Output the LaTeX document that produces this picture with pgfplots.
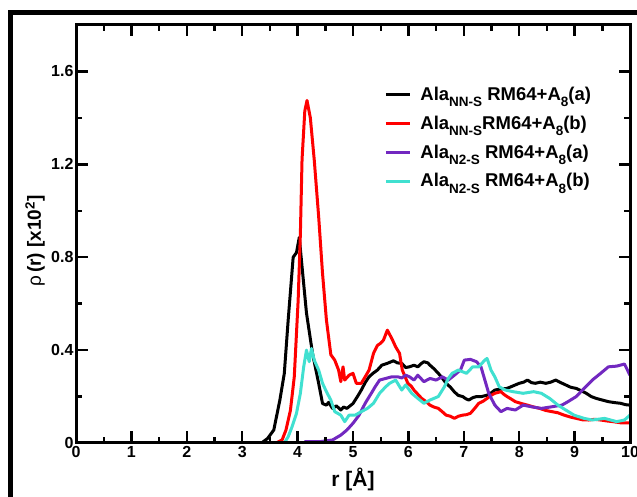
\documentclass[border=0pt]{standalone}
\usepackage{fontspec}
\setmainfont{Liberation Sans}
\usepackage{pgfplots}
\pgfplotsset{compat=1.18}
\definecolor{gpurple}{RGB}{114,40,192}
\definecolor{gturq}{RGB}{64,224,208}
\newcommand\sub[1]{\raisebox{-6.5pt}{\fontsize{13.5pt}{14pt}\selectfont #1}}
\begin{document}
\begin{tikzpicture}[x=1pt,y=1pt]
\useasboundingbox (0,0) rectangle (637,497);
\clip (0,0) rectangle (637,497);
\draw[line width=5pt] (10,-20) -- (10,484.5) -- (700,484.5);
\begin{axis}[
  at={(76pt,54pt)}, anchor=south west,
  scale only axis, width=554pt, height=418pt,
  xmin=0, xmax=10, ymin=0, ymax=1.8,
  axis on top=true,
  xtick={0,1,...,10}, ytick={0,0.4,0.8,1.2,1.6},
  minor x tick num=1, minor y tick num=1,
  tick align=inside,
  major tick length=11.5pt, minor tick length=6pt,
  axis line style={line width=3pt},
  every tick/.style={line width=2.4pt, black},
  /pgf/number format/assume math mode=true,
  ticklabel style={font=\fontsize{16pt}{18pt}\selectfont\bfseries},
  yticklabel style={xshift=1pt},
  xlabel={r [Å]},
  ylabel={{\fontseries{m}\selectfont ρ}\,(r) [x10\textsuperscript{2}]},
  xlabel style={font=\fontsize{21pt}{23pt}\selectfont\bfseries, at={(axis description cs:0.5,0)}, anchor=center, yshift=-36pt},
  ylabel style={font=\fontsize{19pt}{21pt}\selectfont\bfseries, at={(axis description cs:-0.074,0.483)}, anchor=center},
  legend style={draw=none, fill=none, at={(axis description cs:0.551,0.862)}, anchor=north west,
    font=\fontsize{18.5pt}{20pt}\selectfont\bfseries, row sep=10pt,
    nodes={inner xsep=3pt}},
  legend cell align=left,
  legend image code/.code={\draw[#1] (0pt,0pt) -- (24pt,0pt); \path (30pt,0pt);},
  every axis plot/.append style={line width=3pt, line join=round},
]
\addplot[black] coordinates {
(3.2,0) (3.35,0) (3.46,0.02) (3.57,0.056) (3.68,0.185) (3.76,0.30) (3.83,0.53) (3.92,0.80) (3.98,0.82) (4.03,0.885)
(4.08,0.76) (4.16,0.56) (4.27,0.385) (4.38,0.257) (4.45,0.17) (4.52,0.163) (4.56,0.175) (4.63,0.149) (4.70,0.16) (4.78,0.142)
(4.83,0.155) (4.89,0.149) (5.0,0.17) (5.08,0.20) (5.15,0.228) (5.22,0.26) (5.29,0.285) (5.36,0.30) (5.44,0.314) (5.52,0.335)
(5.62,0.343) (5.73,0.354) (5.80,0.345) (5.88,0.343) (5.95,0.325) (6.02,0.328) (6.10,0.335) (6.17,0.328) (6.22,0.34) (6.28,0.35)
(6.35,0.345) (6.39,0.335) (6.46,0.32) (6.54,0.30) (6.61,0.28) (6.68,0.257) (6.76,0.24) (6.83,0.22) (6.90,0.205) (6.98,0.20)
(7.04,0.19) (7.09,0.185) (7.16,0.195) (7.23,0.20) (7.32,0.20) (7.42,0.206) (7.49,0.215) (7.56,0.228) (7.66,0.232) (7.78,0.235)
(7.88,0.245) (8.0,0.257) (8.08,0.262) (8.15,0.271) (8.22,0.26) (8.29,0.257) (8.38,0.262) (8.48,0.257) (8.57,0.262) (8.66,0.271)
(8.75,0.26) (8.84,0.25) (8.93,0.24) (9.03,0.235) (9.12,0.225) (9.21,0.214) (9.30,0.20) (9.39,0.192) (9.50,0.185) (9.61,0.178)
(9.72,0.174) (9.83,0.171) (9.92,0.165) (10,0.163)
};
\addlegendentry{Ala\sub{NN-S} RM64+A\sub{8}(a)}
\addplot[red] coordinates {
(3.5,0) (3.61,0) (3.72,0.013) (3.79,0.056) (3.87,0.14) (3.94,0.285) (4.01,0.615) (4.05,0.90) (4.08,1.22) (4.13,1.43)
(4.17,1.475) (4.23,1.40) (4.30,1.22) (4.38,0.975) (4.45,0.73) (4.52,0.53) (4.60,0.38) (4.67,0.357) (4.74,0.314) (4.78,0.264)
(4.82,0.328) (4.85,0.271) (4.93,0.292) (5.0,0.30) (5.06,0.257) (5.15,0.257) (5.22,0.285) (5.29,0.314) (5.37,0.386) (5.44,0.42)
(5.50,0.43) (5.55,0.443) (5.62,0.486) (5.70,0.45) (5.77,0.414) (5.84,0.386) (5.89,0.314) (5.99,0.257) (6.05,0.245) (6.10,0.228)
(6.17,0.21) (6.24,0.192) (6.31,0.18) (6.39,0.163) (6.46,0.155) (6.54,0.149) (6.61,0.135) (6.68,0.12) (6.76,0.115) (6.83,0.106)
(6.90,0.115) (6.98,0.12) (7.05,0.122) (7.12,0.128) (7.20,0.15) (7.27,0.171) (7.35,0.18) (7.42,0.192) (7.49,0.205) (7.56,0.214)
(7.67,0.221) (7.72,0.21) (7.78,0.20) (7.85,0.19) (7.93,0.178) (8.04,0.17) (8.15,0.163) (8.26,0.155) (8.37,0.149) (8.48,0.14)
(8.59,0.135) (8.70,0.13) (8.81,0.12) (8.92,0.112) (9.03,0.106) (9.14,0.10) (9.25,0.099) (9.36,0.102) (9.47,0.099) (9.58,0.095)
(9.69,0.092) (9.83,0.087) (10,0.087)
};
\addlegendentry{Ala\sub{NN-S}RM64+A\sub{8}(b)}
\addplot[gpurple] coordinates {
(4.12,0.006) (4.41,0.006) (4.63,0.013) (4.78,0.034) (4.89,0.056) (5.0,0.085) (5.11,0.12) (5.22,0.171) (5.33,0.214) (5.40,0.242)
(5.48,0.271) (5.59,0.278) (5.70,0.285) (5.81,0.285) (5.88,0.28) (5.95,0.292) (6.02,0.285) (6.10,0.271) (6.17,0.292) (6.28,0.264)
(6.39,0.278) (6.50,0.271) (6.61,0.285) (6.72,0.271) (6.83,0.292) (6.94,0.314) (7.01,0.357) (7.12,0.36) (7.23,0.35) (7.31,0.328)
(7.38,0.271) (7.45,0.214) (7.56,0.163) (7.67,0.135) (7.78,0.149) (7.93,0.142) (8.07,0.163) (8.22,0.156) (8.40,0.149) (8.59,0.156)
(8.77,0.163) (8.88,0.178) (9.03,0.20) (9.17,0.235) (9.32,0.271) (9.47,0.30) (9.61,0.328) (9.76,0.331) (9.90,0.34) (10,0.292)
};
\addlegendentry{Ala\sub{N2-S} RM64+A\sub{8}(a)}
\addplot[gturq] coordinates {
(3.65,0) (3.76,0) (3.83,0.027) (3.90,0.07) (3.98,0.128) (4.05,0.214) (4.11,0.328) (4.16,0.40) (4.21,0.35) (4.25,0.407)
(4.30,0.357) (4.38,0.314) (4.45,0.257) (4.52,0.221) (4.60,0.185) (4.67,0.135) (4.78,0.12) (4.85,0.092) (4.93,0.12) (5.04,0.12)
(5.15,0.135) (5.26,0.149) (5.37,0.171) (5.48,0.214) (5.59,0.242) (5.66,0.257) (5.77,0.271) (5.88,0.228) (5.95,0.25) (6.06,0.214)
(6.17,0.192) (6.28,0.171) (6.39,0.185) (6.54,0.20) (6.65,0.242) (6.72,0.278) (6.79,0.30) (6.90,0.314) (7.05,0.30) (7.16,0.328)
(7.27,0.328) (7.38,0.357) (7.42,0.364) (7.49,0.314) (7.56,0.285) (7.64,0.242) (7.75,0.228) (7.89,0.221) (8.07,0.214) (8.26,0.221)
(8.40,0.214) (8.55,0.192) (8.70,0.163) (8.84,0.142) (8.99,0.12) (9.17,0.106) (9.32,0.099) (9.54,0.106) (9.76,0.092) (9.90,0.099)
(10,0.12)
};
\addlegendentry{Ala\sub{N2-S} RM64+A\sub{8}(b)}
\end{axis}
\end{tikzpicture}
\end{document}
